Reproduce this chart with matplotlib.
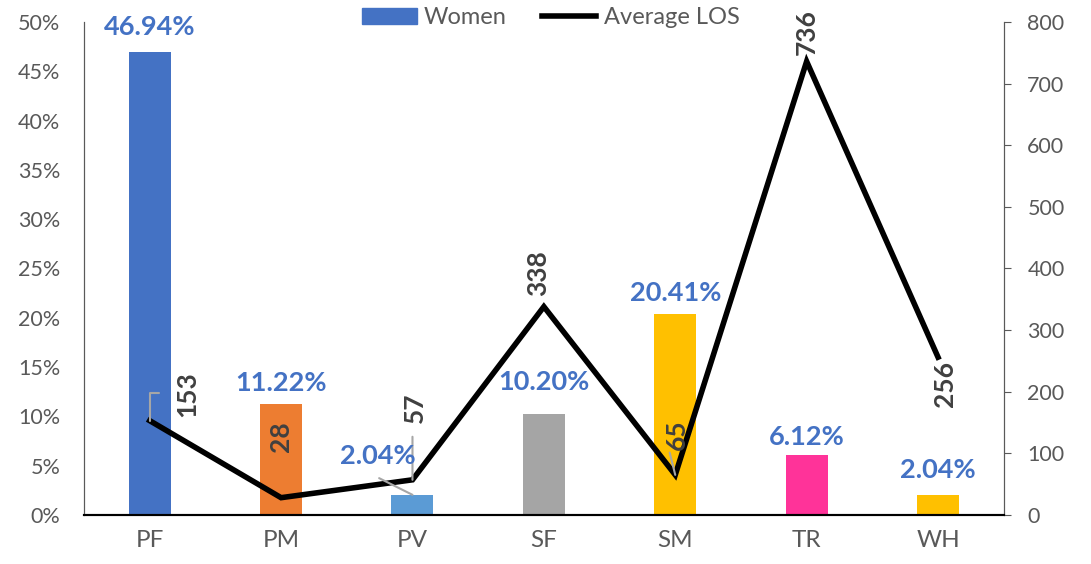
import numpy as np
import matplotlib.pyplot as plt
from matplotlib.patches import Patch
from matplotlib.lines import Line2D

plt.rcParams['font.family'] = ['Lato', 'DejaVu Sans']

# data
categories = ['PF', 'PM', 'PV', 'SF', 'SM', 'TR', 'WH']
women_pct = [0.4694, 0.1122, 0.0204, 0.1020, 0.2041, 0.0612, 0.0204]
avg_los = [153, 28, 57, 338, 65, 736, 256]

bar_colors = ['#4472C4', '#ED7D31', '#5B9BD5', '#A5A5A5', '#FFC000', '#FF3399', '#FFC000']

# label offsets in points (text centre relative to the mark)
bar_lbl_off = [(0, 18), (0, 15), (-25, 28), (0, 23), (0, 15), (0, 13), (0, 18)]
los_lbl_off = [(27, 19), (0, 44), (2, 52), (-4, 24), (1, 29), (0, 21), (5, -19)]

x = np.arange(len(categories))

fig = plt.figure(figsize=(10.91, 5.64), dpi=100)
ax = fig.add_axes([0.077, 0.087, 0.843, 0.874])
ax2 = ax.twinx()

ax.bar(x, women_pct, width=0.32, color=bar_colors, zorder=2)
ax.set_xlim(-0.5, len(categories) - 0.5)
ax.set_ylim(0, 0.5)
yt = np.arange(0, 0.51, 0.05)
ax.set_yticks(yt)
ax.set_yticklabels([f'{int(round(v * 100))}%' for v in yt])
ax.set_xticks(x)
ax.set_xticklabels(categories)

ax2.plot(x, avg_los, color='black', lw=4, solid_joinstyle='miter', zorder=3)
ax2.set_ylim(0, 800)
ax2.set_yticks(range(0, 801, 100))

for a in (ax, ax2):
    a.spines['top'].set_visible(False)
    a.spines['left'].set_color('#595959')
    a.spines['right'].set_color('#595959')
    a.spines['bottom'].set_color('black')
    a.spines['bottom'].set_linewidth(1.5)
ax.tick_params(axis='y', length=0, labelsize=15.5, labelcolor='#595959', pad=17)
ax.tick_params(axis='x', length=0, labelsize=17.5, labelcolor='#595959', pad=11)
ax2.tick_params(axis='y', length=5, color='#595959', labelsize=15.5, labelcolor='#595959', pad=12)

# bar value labels
for i, v in enumerate(women_pct):
    ax2.annotate(f'{v * 100:.2f}%', xy=(x[i], v * 1600), xytext=bar_lbl_off[i],
                 textcoords='offset points', ha='center', va='center',
                 fontsize=19.5, fontweight='bold', color='#4472C4', zorder=5)

# line value labels
for i, v in enumerate(avg_los):
    ax2.annotate(str(v), xy=(x[i], v), xytext=los_lbl_off[i],
                 textcoords='offset points', ha='center', va='center', rotation=90,
                 fontsize=19, fontweight='bold', color='#404040', zorder=5)

# leader lines
lead = dict(arrowstyle='-', color='#A6A6A6', lw=1.5, shrinkA=0, shrinkB=0)
ax2.annotate('', xy=(x[0], avg_los[0]), xytext=(7, 20), textcoords='offset points',
             arrowprops=dict(lead, connectionstyle='angle,angleA=0,angleB=90'))
ax2.annotate('', xy=(x[2], women_pct[2] * 1600), xytext=(-24, 12), textcoords='offset points',
             arrowprops=lead)
ax2.annotate('', xy=(x[2], avg_los[2]), xytext=(0, 31), textcoords='offset points',
             arrowprops=lead)
ax2.annotate('', xy=(x[4], avg_los[4]), xytext=(-4, 16), textcoords='offset points',
             arrowprops=lead)

handles = [Patch(color='#4472C4', label='Women'),
           Line2D([], [], color='black', lw=4, label='Average LOS')]
leg = fig.legend(handles=handles, loc='upper center', bbox_to_anchor=(0.505, 1.025), ncol=2,
                 frameon=False, fontsize=17, handlelength=2.3, handleheight=0.7,
                 columnspacing=1.5, handletextpad=0.3)
for t in leg.get_texts():
    t.set_color('#595959')

fig.savefig('out.png', dpi=100)
